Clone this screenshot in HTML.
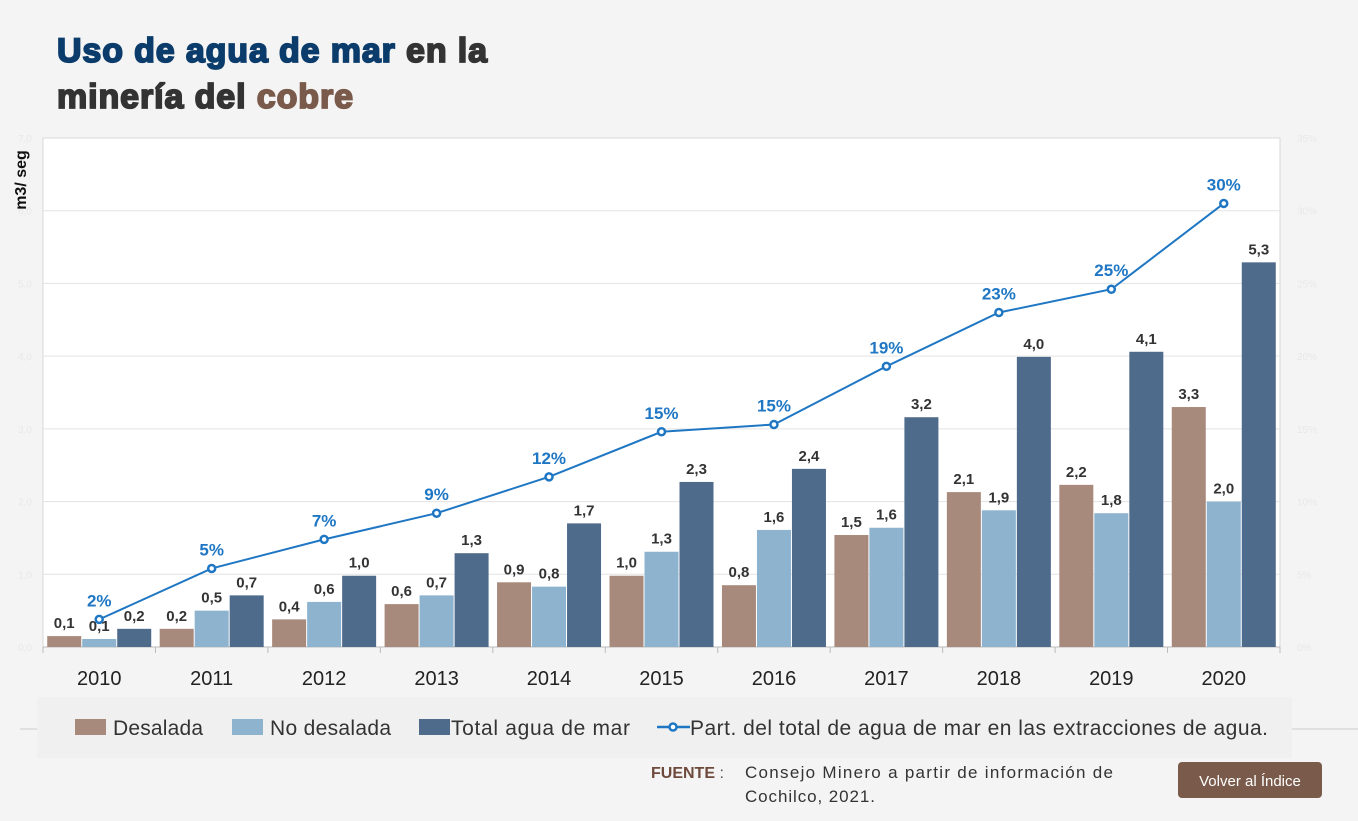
<!DOCTYPE html>
<html><head><meta charset="utf-8"><style>
body{margin:0;width:1358px;height:821px;background:#f4f4f4;overflow:hidden;font-family:"Liberation Sans",sans-serif}
svg{position:absolute;left:0;top:0}
</style></head><body>
<svg width="1358" height="821">
<text x="57" y="62" font-size="34" font-weight="900" fill="#0b3c6b" textLength="430" style="stroke:#0b3c6b;stroke-width:1.8">Uso de agua de mar <tspan fill="#333" stroke="#333">en la</tspan></text>
<text x="57" y="108" font-size="34" font-weight="900" fill="#333" textLength="296" style="stroke:#333;stroke-width:1.8">minería del <tspan fill="#7a5a4a" stroke="#7a5a4a">cobre</tspan></text>
<rect x="43" y="138" width="1237" height="509" fill="#fff" stroke="#d9d9d9"/>
<g id="grid"></g>
<text transform="translate(26,180) rotate(-90)" text-anchor="middle" font-size="16" font-weight="bold" fill="#111">m3/ seg</text>
<g id="bars"></g><g id="line"></g><g id="labels"></g>
<rect x="37" y="697" width="1255" height="61" fill="#f0f0f0"/>
<line x1="20" y1="729" x2="37" y2="729" stroke="#ccc"/><line x1="1292" y1="729" x2="1358" y2="729" stroke="#ccc"/>
<g font-size="21" fill="#333">
<rect x="75" y="719" width="31" height="16" fill="#a88a7c"/><text x="113" y="735" textLength="90">Desalada</text>
<rect x="232" y="719" width="31" height="16" fill="#8db3cf"/><text x="270" y="735" textLength="121">No desalada</text>
<rect x="419" y="719" width="31" height="16" fill="#4f6b8c"/><text x="451" y="735" textLength="179">Total agua de mar</text>
<line x1="657" y1="727" x2="690" y2="727" stroke="#1f77c4" stroke-width="2.5"/><circle cx="673" cy="727" r="3.5" fill="#fff" stroke="#1f77c4" stroke-width="2.5"/>
<text x="690" y="735" textLength="578">Part. del total de agua de mar en las extracciones de agua.</text>
</g>
<text x="651" y="778" font-size="16" font-weight="bold" fill="#6e4a3c">FUENTE <tspan font-weight="normal" fill="#555">:</tspan></text>
<text x="745" y="778" font-size="17" fill="#333" textLength="368">Consejo Minero a partir de información de</text>
<text x="745" y="802" font-size="17" fill="#333" textLength="130">Cochilco, 2021.</text>
<g>
<rect x="1178" y="762" width="144" height="36" rx="4" fill="#7a5a4a"/>
<text x="1250" y="786" text-anchor="middle" font-size="15" fill="#fff">Volver al Índice</text></g>
</svg>
<script>
const years=["2010","2011","2012","2013","2014","2015","2016","2017","2018","2019","2020"];
const desalada=[0.15,0.25,0.38,0.59,0.89,0.98,0.85,1.54,2.13,2.23,3.3];
const noDesalada=[0.11,0.5,0.62,0.71,0.83,1.31,1.61,1.64,1.88,1.84,2.0];
const total=[0.25,0.71,0.98,1.29,1.7,2.27,2.45,3.16,3.99,4.06,5.29];
const desaladaLabels=["0,1","0,2","0,4","0,6","0,9","1,0","0,8","1,5","2,1","2,2","3,3"];
const noDesaladaLabels=["0,1","0,5","0,6","0,7","0,8","1,3","1,6","1,6","1,9","1,8","2,0"];
const totalLabels=["0,2","0,7","1,0","1,3","1,7","2,3","2,4","3,2","4,0","4,1","5,3"];
const share=[1.9,5.4,7.4,9.2,11.7,14.8,15.3,19.3,23.0,24.6,30.5];
const shareLabels=["2%","5%","7%","9%","12%","15%","15%","19%","23%","25%","30%"];
const yTicks=["0,0","1,0","2,0","3,0","4,0","5,0","6,0","7,0"];
const y2Ticks=["0%","5%","10%","15%","20%","25%","30%","35%"];
const NS="http://www.w3.org/2000/svg";
const L=43,R=1280,T=138,B=647;
const cw=(R-L)/years.length;
const y=v=>B-v/7*(B-T);
const y2=v=>B-v/35*(B-T);
const xc=i=>L+cw*(i+0.5);
function mk(tag,attrs,parent,txt){const e=document.createElementNS(NS,tag);for(const k in attrs)e.setAttribute(k,attrs[k]);if(txt!==undefined)e.textContent=txt;document.getElementById(parent).appendChild(e);return e;}
yTicks.forEach((t,i)=>{
  if(i>0&&i<7){const g=mk('line',{x1:L,x2:R,y1:y(i),y2:y(i),stroke:'#e3e3e3'},'grid');
  
  }
  const a=mk('text',{x:32,y:y(i)+4,'text-anchor':'end','font-size':10,fill:'#e8e8e8'},'grid',t);
  
  
  const b=mk('text',{x:1297,y:y(i)+4,'font-size':10,fill:'#e8e8e8'},'grid',y2Ticks[i]);
  
  
});
mk('line',{x1:L,x2:R,y1:B,y2:B,stroke:'#bbb'},'grid');
for(let i=0;i<=years.length;i++){mk('line',{x1:L+cw*i,x2:L+cw*i,y1:B,y2:B+6,stroke:'#bbb'},'grid');}
const series=[[desalada,desaladaLabels,'#a88a7c',-52,'bar-desalada'],[noDesalada,noDesaladaLabels,'#8db3cf',-17,'bar-no-desalada'],[total,totalLabels,'#4f6b8c',18,'bar-total']];
years.forEach((yr,i)=>{
  series.forEach(s=>{
    const v=s[0][i];
    const r=mk('rect',{x:xc(i)+s[3],y:y(v),width:34,height:B-y(v),fill:s[2]},'bars');
    
    
    const t=mk('text',{x:xc(i)+s[3]+17,y:y(v)-8,'text-anchor':'middle','font-size':15,'font-weight':'bold',fill:'#333'},'labels',s[1][i]);
    
    
  });
  const xl=mk('text',{x:xc(i),y:685,'text-anchor':'middle','font-size':20,fill:'#222'},'labels',yr);
  
  
});
const pts=share.map((v,i)=>xc(i)+','+y2(v)).join(' ');
const pl=mk('polyline',{points:pts,fill:'none',stroke:'#1f77c4','stroke-width':2},'line');


share.forEach((v,i)=>{
  const c=mk('circle',{cx:xc(i),cy:y2(v),r:3.5,fill:'#fff',stroke:'#1f77c4','stroke-width':2.5},'line');
  
  
  const t=mk('text',{x:xc(i),y:y2(v)-13,'text-anchor':'middle','font-size':17,'font-weight':'bold',fill:'#1f77c4'},'labels',shareLabels[i]);
  
  
});
</script>
</body></html>
